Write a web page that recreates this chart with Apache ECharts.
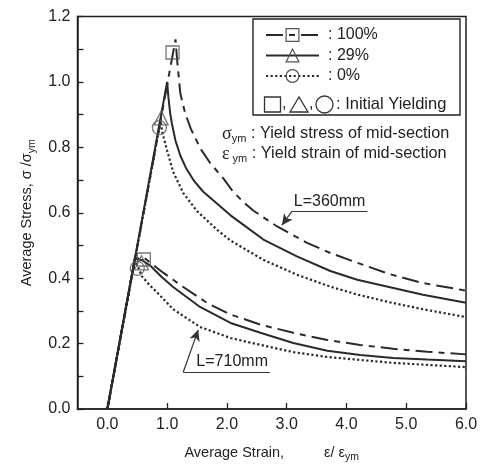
<!DOCTYPE html>
<html>
<head>
<meta charset="utf-8">
<script src="https://cdn.jsdelivr.net/npm/echarts@6/dist/echarts.min.js"></script>
<style>
html, body { margin: 0; padding: 0; background: #fff; }
#chart { width: 486px; height: 468px; }
</style>
</head>
<body>
<div id="chart"></div>
<script>
// Average stress vs. average strain, normalized by mid-section yield values.

const xTickValues = [0, 1, 2, 3, 4, 5, 6];
const yLabelValues = [0, 0.2, 0.4, 0.6, 0.8, 1.0, 1.2];
const yTickValues = [0, 0.1, 0.2, 0.3, 0.4, 0.5, 0.6, 0.7, 0.8, 0.9, 1.0, 1.1, 1.2];

const caseNames = ['100%', '29%', '0%'];

// L = 360 mm
const l360_100 = [[0, 0], [1.14, 1.13], [1.17, 1.06], [1.22, 0.965], [1.30, 0.905], [1.40, 0.855],
  [1.56, 0.795], [1.72, 0.752], [1.94, 0.705], [2.10, 0.665], [2.28, 0.632], [2.44, 0.607],
  [2.84, 0.558], [3.34, 0.508], [3.73, 0.477], [4.18, 0.447], [4.73, 0.412], [5.28, 0.385], [6.0, 0.362]];
const l360_29 = [[0, 0], [1.0, 1.0], [1.02, 0.955], [1.05, 0.905], [1.08, 0.872], [1.14, 0.82],
  [1.22, 0.775], [1.32, 0.735], [1.44, 0.70], [1.60, 0.665], [1.77, 0.638], [2.06, 0.592],
  [2.30, 0.56], [2.61, 0.518], [3.18, 0.466], [3.73, 0.422], [4.18, 0.395], [4.73, 0.372],
  [5.28, 0.349], [6.0, 0.325]];
const l360_0 = [[0, 0], [0.89, 0.88], [0.92, 0.845], [1.0, 0.79], [1.10, 0.725], [1.27, 0.66],
  [1.50, 0.605], [1.84, 0.547], [2.06, 0.515], [2.61, 0.456], [3.18, 0.41], [3.73, 0.374],
  [4.18, 0.35], [4.73, 0.326], [5.28, 0.305], [6.0, 0.281]];

// L = 710 mm
const l710_100 = [[0, 0], [0.46, 0.46], [0.62, 0.462], [0.77, 0.44], [0.94, 0.416], [1.10, 0.395],
  [1.27, 0.373], [1.67, 0.324], [2.06, 0.289], [2.56, 0.258], [3.11, 0.233], [3.68, 0.211],
  [4.23, 0.196], [4.78, 0.184], [5.35, 0.175], [6.0, 0.167]];
const l710_29 = [[0, 0], [0.46, 0.46], [0.58, 0.455], [0.72, 0.438], [0.90, 0.405], [1.10, 0.373],
  [1.55, 0.312], [2.06, 0.263], [2.56, 0.233], [3.11, 0.202], [3.68, 0.178], [4.23, 0.165],
  [4.78, 0.156], [5.35, 0.151], [6.0, 0.146]];
const l710_0 = [[0, 0], [0.45, 0.45], [0.50, 0.44], [0.58, 0.405], [0.70, 0.38], [0.84, 0.355],
  [1.10, 0.305], [1.55, 0.251], [2.06, 0.217], [2.56, 0.196], [3.11, 0.174], [3.68, 0.159],
  [4.23, 0.15], [4.78, 0.141], [5.35, 0.135], [6.0, 0.128]];

// Initial yielding points (upper: L=360mm, lower: L=710mm)
const yield100 = [[1.09, 1.09], [0.61, 0.457]];
const yield29 = [[0.90, 0.89], [0.57, 0.447]];
const yield0 = [[0.87, 0.86], [0.50, 0.43]];

// Length call-outs: underline ends and arrow tip, in axis units
const noteL360 = [[3.09, 0.605], [4.35, 0.605], [2.92, 0.562]];
const noteL710 = [[1.27, 0.113], [2.72, 0.113], [1.52, 0.242]];

const FONT = 'Liberation Sans, Arial, Helvetica, sans-serif';
const INK = '#2a2a2a';

const styleDashDot = { color: INK, width: 2, type: [17, 6, 6, 6] };
const styleSolid = { color: INK, width: 2, type: 'solid' };
const styleDotted = { color: INK, width: 2.2, type: [2.2, 2.4] };

function curve(name, data, lineStyle, symbol, z) {
  return {
    type: 'line', name: name, data: data, symbol: symbol, showSymbol: false,
    lineStyle: lineStyle, itemStyle: { color: INK }, z: z, silent: true, animation: false
  };
}

function yieldMarks(name, data, symbol, size) {
  return {
    type: 'scatter', name: name, data: data, symbol: symbol, symbolSize: size, z: 5,
    itemStyle: { color: 'rgba(0,0,0,0)', borderColor: '#555', borderWidth: 1.3 },
    silent: true, animation: false
  };
}

function callout(base, tip, text) {
  return [
    [{ coord: base[0], symbol: 'none',
       label: { show: true, formatter: text, position: 'insideEndTop', distance: 2,
                fontSize: 16, fontFamily: FONT, color: '#222' } },
     { coord: base[1], symbol: 'none' }],
    [{ coord: base[0], symbol: 'none' }, { coord: tip, symbol: 'arrow', symbolSize: [8, 11] }]
  ];
}

const chart = echarts.init(document.getElementById('chart'));

const marks0 = yieldMarks('Initial yielding 0%', yield0, 'circle', 14);
marks0.markLine = {
  silent: true, animation: false, symbol: ['none', 'none'],
  lineStyle: { type: 'solid', color: '#333', width: 1.2 },
  label: { show: false },
  emphasis: { disabled: true },
  data: callout([noteL360[0], noteL360[1]], noteL360[2], 'L=360mm')
    .concat(callout([noteL710[0], noteL710[1]], noteL710[2], 'L=710mm'))
};

const titleRich = {
  t: { fontSize: 14.5, fontFamily: FONT, color: '#222', lineHeight: 20 },
  e: { fontSize: 14.5, fontFamily: FONT, color: '#222', lineHeight: 20, padding: [0, 0, 0, 40] },
  s: { fontSize: 10.5, fontFamily: FONT, color: '#222', lineHeight: 11, verticalAlign: 'bottom' }
};

chart.setOption({
  animation: false,
  backgroundColor: '#fff',
  textStyle: { fontFamily: FONT },
  grid: { left: 77.5, right: 20, top: 16.5, bottom: 59, show: true, borderColor: '#222', borderWidth: 1.5 },
  xAxis: {
    type: 'value', min: -0.5, max: 6,
    name: '{t|Average Strain,}{e|ε/ ε}{s|ym}',
    nameLocation: 'middle', nameGap: 34,
    nameTextStyle: { rich: titleRich },
    axisLine: { onZero: false, lineStyle: { color: '#222', width: 1.5 } },
    axisTick: { inside: true, length: 6, customValues: xTickValues, lineStyle: { color: '#222', width: 1.3 } },
    axisLabel: { customValues: xTickValues, fontSize: 16, color: '#222', margin: 8, fontFamily: FONT,
                 formatter: v => v.toFixed(1) },
    splitLine: { show: false }
  },
  yAxis: {
    type: 'value', min: 0, max: 1.2,
    name: '{t|Average Stress, σ /σ}{s|ym}',
    nameLocation: 'middle', nameGap: 40,
    nameTextStyle: { rich: titleRich },
    axisLine: { onZero: false, lineStyle: { color: '#222', width: 1.5 } },
    axisTick: { inside: true, length: 6, customValues: yTickValues, lineStyle: { color: '#222', width: 1.3 } },
    axisLabel: { customValues: yLabelValues, fontSize: 16, color: '#222', margin: 7, fontFamily: FONT,
                 formatter: v => v.toFixed(1) },
    splitLine: { show: false }
  },
  legend: {
    data: caseNames, orient: 'vertical', left: 265, top: 27, padding: 0,
    itemWidth: 53, itemHeight: 16, itemGap: 4.5, selectedMode: false,
    formatter: ': {name}',
    textStyle: { fontSize: 16, color: '#222', fontFamily: FONT, padding: [0, 0, 0, 4] },
    itemStyle: { color: 'rgba(0,0,0,0)', borderColor: '#555', borderWidth: 1.2 }
  },
  graphic: [
    { type: 'rect', shape: { x: 253, y: 19, width: 207, height: 96 },
      style: { fill: 'none', stroke: '#222', lineWidth: 1.4 }, silent: true },
    { type: 'rect', shape: { x: 264.5, y: 97, width: 16, height: 15 },
      style: { fill: 'none', stroke: '#333', lineWidth: 1.3 }, silent: true },
    { type: 'text', x: 282, y: 104, style: { text: ',', fontSize: 16, fontFamily: FONT, fill: '#222', verticalAlign: 'middle' } },
    { type: 'polygon', shape: { points: [[290, 112], [308, 112], [299, 97]] },
      style: { fill: 'none', stroke: '#333', lineWidth: 1.3 }, silent: true },
    { type: 'text', x: 309, y: 104, style: { text: ',', fontSize: 16, fontFamily: FONT, fill: '#222', verticalAlign: 'middle' } },
    { type: 'circle', shape: { cx: 324.5, cy: 104.5, r: 8.5 },
      style: { fill: 'none', stroke: '#333', lineWidth: 1.3 }, silent: true },
    { type: 'text', x: 336, y: 104, style: { text: ': Initial Yielding', fontSize: 16.5, fontFamily: FONT, fill: '#222', verticalAlign: 'middle' } },
    { type: 'text', x: 222, y: 134, style: {
        text: '{g|σ}{s|ym}{t| : Yield stress of mid-section}', verticalAlign: 'middle',
        rich: {
          g: { fontSize: 18, fontFamily: 'Liberation Serif, serif', fill: '#222', lineHeight: 20 },
          s: { fontSize: 11, fontFamily: FONT, fill: '#222', lineHeight: 11, verticalAlign: 'bottom' },
          t: { fontSize: 16.3, fontFamily: FONT, fill: '#222', lineHeight: 20 }
        } } },
    { type: 'text', x: 222, y: 154, style: {
        text: '{g|ε}{s| ym}{t| : Yield strain of mid-section}', verticalAlign: 'middle',
        rich: {
          g: { fontSize: 18, fontFamily: 'Liberation Serif, serif', fill: '#222', lineHeight: 20 },
          s: { fontSize: 11, fontFamily: FONT, fill: '#222', lineHeight: 11, verticalAlign: 'bottom' },
          t: { fontSize: 16.3, fontFamily: FONT, fill: '#222', lineHeight: 20 }
        } } }
  ],
  series: [
    curve('100%', l360_100, styleDashDot, 'rect', 2),
    curve('29%', l360_29, styleSolid, 'triangle', 3),
    curve('0%', l360_0, styleDotted, 'circle', 2),
    curve('100%', l710_100, styleDashDot, 'rect', 2),
    curve('0%', l710_0, styleDotted, 'circle', 2),
    curve('29%', l710_29, styleSolid, 'triangle', 3),
    yieldMarks('Initial yielding 100%', yield100, 'rect', 13),
    yieldMarks('Initial yielding 29%', yield29, 'triangle', 14),
    marks0
  ]
});
</script>
</body>
</html>
